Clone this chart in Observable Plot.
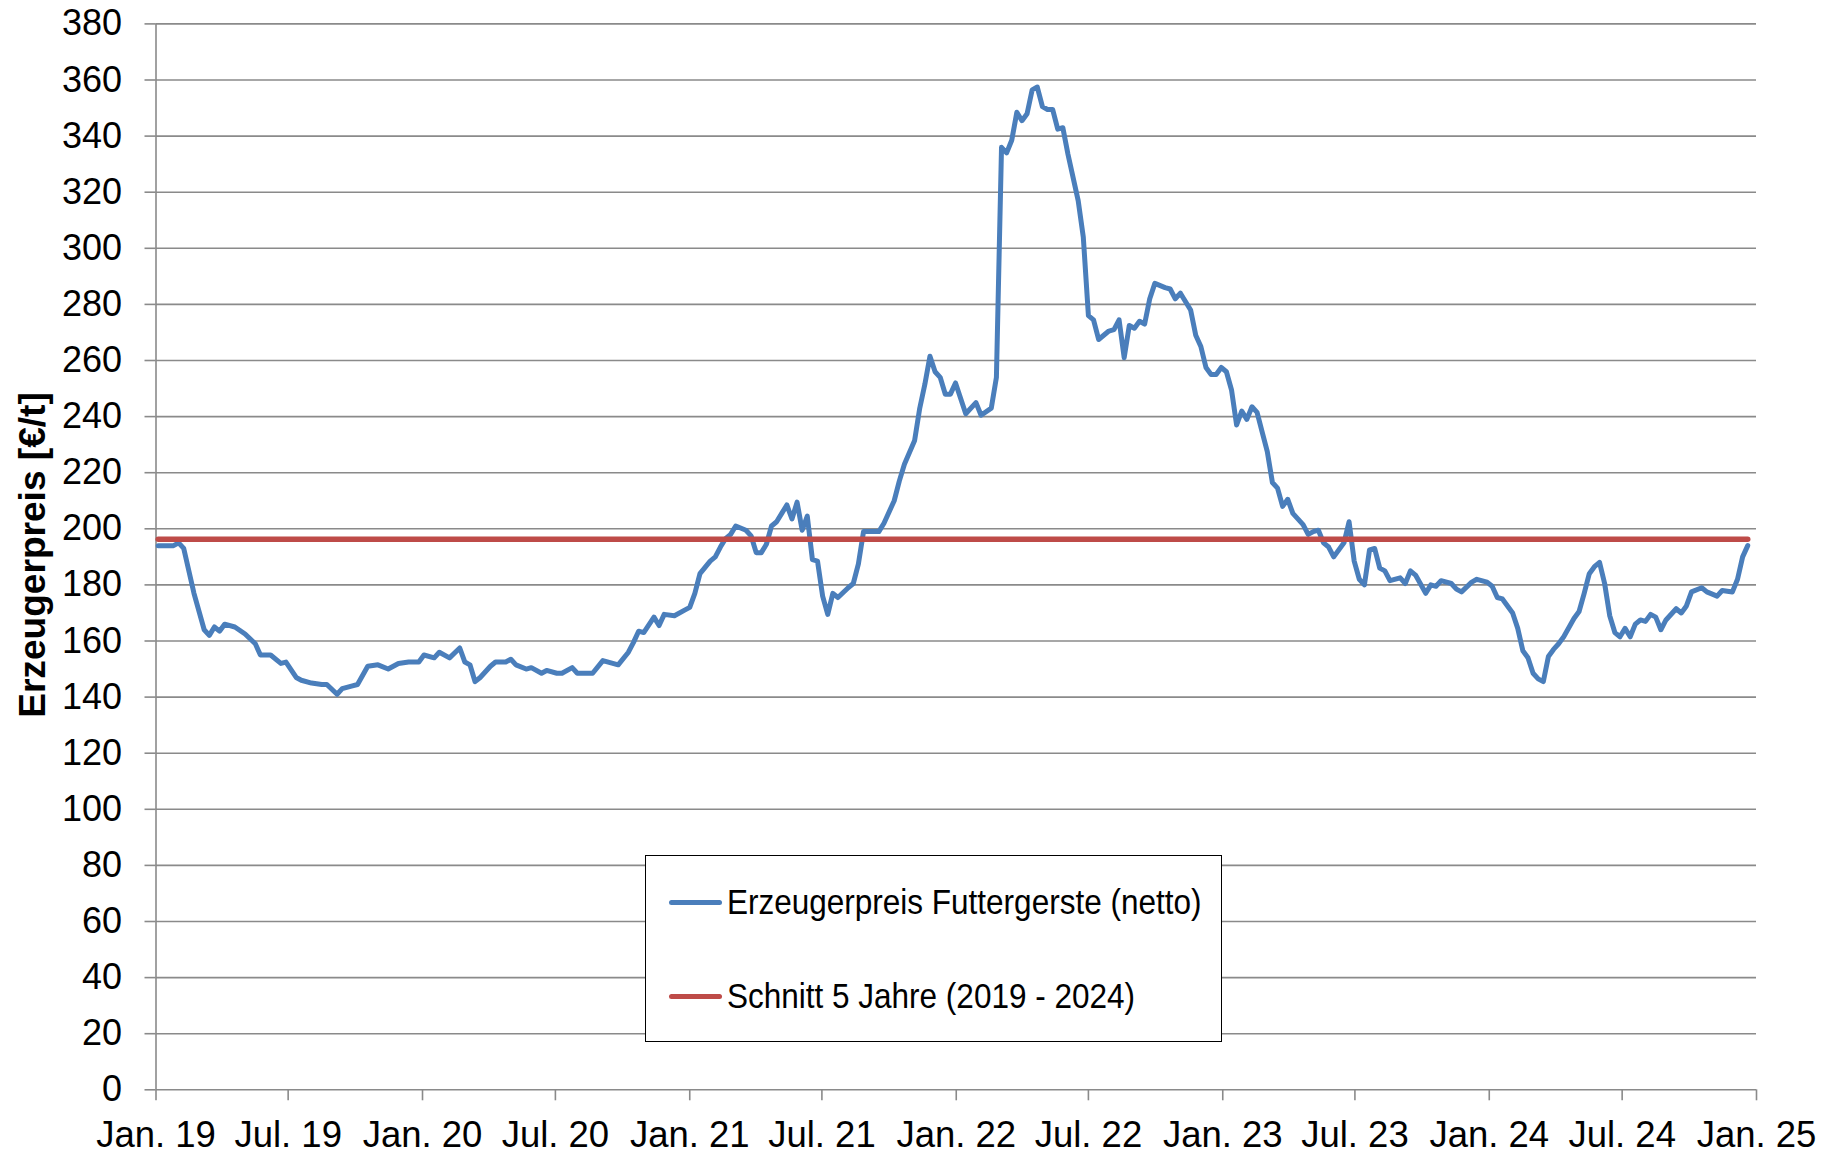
<!DOCTYPE html>
<html lang="de">
<head>
<meta charset="utf-8">
<script src="https://cdn.jsdelivr.net/npm/d3@7"></script>
<script src="https://cdn.jsdelivr.net/npm/@observablehq/plot@0.6"></script>
<style>
  html, body { margin: 0; padding: 0; background: #fff; }
  #wrap { position: relative; width: 1833px; height: 1154px; overflow: hidden; }
  #wrap svg { display: block; }
  .ytitle {
    position: absolute; left: 33px; top: 555px;
    font: bold 36px "Liberation Sans", Arial, sans-serif; color: #000; white-space: nowrap;
    transform: translate(-50%, -50%) rotate(-90deg) scaleX(1.03);
  }
  .legend {
    position: absolute; left: 645px; top: 855px; width: 575px; height: 185px;
    border: 1.5px solid #000; background: #fff;
    font: 35px "Liberation Sans", Arial, sans-serif; color: #000;
  }
  .item { position: absolute; left: 23px; height: 40px; display: flex; align-items: center; white-space: nowrap; }
  .swatch { width: 53px; height: 5px; border-radius: 3px; margin-right: 5px; flex: none; }
  .label { display: inline-block; transform-origin: left center; transform: scaleX(0.9); }
</style>
</head>
<body>
<div id="wrap"></div>
<script>
// Wochen seit 04.01.2019 (Wochennotierung) und Erzeugerpreis Futtergerste (netto) in €/t
const wochen = [
  0,1,2,3,4,5, 7,9,10,11,12,13, 15,17,19,20,22,24, 25,27,28,30,32,33, 35,36,38,39,41,43, 45,47,49,51,52,54, 55,57,59,
  60,61,62,63,65,66, 68,69,70,72,73,75, 76,78,79,81,82,85, 87,90,92,93,94,95, 97,98,99,101,103,104,
  105,106,108,109,110,111, 112,113,115,116,117,118, 119,120,121,122,123,124, 125,126,127,128,129,
  130,131,132,133,135,136, 137,138,140,141,142,144, 145,146,148,149,150,151, 152,153,154,155,156,158,
  160,161,163,164,165,166, 167,168,169,170,171,172, 173,174,175,176,177,178, 180,181,182,183,184,186,
  187,188,189,190,191,192, 193,194,195,197,198,199,
  200,202,203,204,205,206, 207,208,209,210,211,212, 213,214,215,216,217,218, 219,220,221,222,224,225,
  226,227,228,229,230,232, 233,234,235,236,237,238, 239,240,241,243,244,245, 246,248,249,250,251,253,
  254,255,257,258,260,
  261,262,263,264,265,266, 267,268,269,270,271,272, 273,274,275,277,278,279, 280,281,282,283,284,285,
  286,287,288,289,290,291, 292,293,294,295,297,298, 299,300,302,303,305,306, 308,309,310,311
];
const preise = [
  194,194,194,194,195,193, 177,164,162,165,163.5,166, 165,162.5,159,155,155,152, 152.5,147,146,145,144.5,144.5, 141,143,144,144.5,151,151.5, 150,152,152.5,152.5,155,154, 156,154,157.5,
  152.5,151.5,145.5,147,151,152.5, 152.5,153.5,151.5,150,150.5,148.5, 149.5,148.5,148.5,150.5,148.5,148.5, 153,151.5,156,159.5,163.5,163, 168.5,165.5,169.5,169,171,172,
  177,184,188.5,190,193.5,196.5, 198,201,199.5,197.5,191.5,191.5, 194.5,201,202.5,205.5,208.5,203.5, 209.5,199.5,204.5,189,188.5,
  176,169.5,177,175.5,179,180.5, 187.5,199,199,199,202,210, 217,223,231.5,243,251.5,261.5, 256,254,248,248,252,241,
  245,240.5,243,254,336,334, 338.5,348.5,345.5,348,356.5,357.5, 350.5,349.5,349.5,342.5,343,333.5, 317,304,276,274.5,267.5,270.5,
  271,274.5,261,272.5,271.5,274, 273,282,287.5,286,285.5,282,
  284,278,269,265,257.5,255, 255,257.5,256,249.5,237,242, 239,243.5,241.5,234.5,227.5,216.5, 214.5,208,210.5,205.5,201.5,198,
  199,199.5,195,193.5,190,195, 202.5,188.5,182,180,192.5,193, 186,185,181.5,182.5,180.5,185, 183.5,177,180,179.5,181.5,180.5,
  178.5,177.5,181,182,181,
  179.5,175.5,175,172.5,170,164.5, 156.5,154,148.5,146.5,145.5,154.5, 157,159,161.5,168,170.5,177, 184,186.5,188,180.5,169,163,
  161.5,164.5,161.5,166,167.5,167, 169.5,168.5,164,167.5,171.5,170, 172.5,177.5,179,177.5,176,178, 177.5,182,190,194
];
// Schnitt 5 Jahre (2019 - 2024)
const schnitt = 196.3;

const yTicks = [0,20,40,60,80,100,120,140,160,180,200,220,240,260,280,300,320,340,360,380];
const xTickLabels = ["Jan. 19","Jul. 19","Jan. 20","Jul. 20","Jan. 21","Jul. 21","Jan. 22","Jul. 22","Jan. 23","Jul. 23","Jan. 24","Jul. 24","Jan. 25"];
const serienNamen = ["Erzeugerpreis Futtergerste (netto)", "Schnitt 5 Jahre (2019 - 2024)"];
const farben = ["#4A7EBB", "#BE4B48"];

const xStart = new Date(2019, 0, 1);
const xEnde = new Date(2025, 0, 1);
const xTicks = xTickLabels.map((_, i) => new Date(2019, 6 * i, 1));

const daten = wochen.map((w, i) => ({datum: new Date(2019, 0, 4 + 7 * w), preis: preise[i]}));
const schnittDaten = [
  {datum: daten[0].datum, wert: schnitt},
  {datum: daten[daten.length - 1].datum, wert: schnitt}
];

const grau = "#8a8a8a";
const chart = Plot.plot({
  width: 1833,
  height: 1154,
  marginLeft: 155.5,
  marginRight: 77,
  marginTop: 23.4,
  marginBottom: 64.7,
  style: {fontFamily: "'Liberation Sans', Arial, sans-serif", fontSize: "36px", color: "#000", background: "#fff", overflow: "visible"},
  x: {type: "time", domain: [xStart, xEnde]},
  y: {domain: [0, 380]},
  marks: [
    Plot.ruleY(yTicks, {stroke: grau, strokeWidth: 1.6}),
    Plot.ruleX([xStart], {stroke: grau, strokeWidth: 1.6}),
    Plot.axisY(yTicks, {tickSize: 11, tickPadding: 23, stroke: grau, strokeWidth: 1.6, fill: "#000", fontSize: 36, label: null}),
    Plot.axisX(xTicks, {
      tickSize: 11, tickPadding: 20, stroke: grau, strokeWidth: 1.6, fill: "#000", fontSize: 36.5, label: null,
      tickFormat: d => xTickLabels[xTicks.findIndex(t => +t === +d)]
    }),
    Plot.line(daten, {x: "datum", y: "preis", stroke: farben[0], strokeWidth: 5, strokeLinejoin: "round", strokeLinecap: "round"}),
    Plot.line(schnittDaten, {x: "datum", y: "wert", stroke: farben[1], strokeWidth: 5.5, strokeLinecap: "round"})
  ]
});

const wrap = document.getElementById("wrap");
wrap.appendChild(chart);

const titel = document.createElement("div");
titel.className = "ytitle";
titel.textContent = "Erzeugerpreis [€/t]";
wrap.appendChild(titel);

const legende = document.createElement("div");
legende.className = "legend";
const tops = [26, 120];
serienNamen.forEach((name, i) => {
  const item = document.createElement("div");
  item.className = "item";
  item.style.top = tops[i] + "px";
  const sw = document.createElement("span");
  sw.className = "swatch";
  sw.style.background = farben[i];
  const lb = document.createElement("span");
  lb.className = "label";
  lb.textContent = name;
  item.appendChild(sw);
  item.appendChild(lb);
  legende.appendChild(item);
});
wrap.appendChild(legende);
</script>
</body>
</html>
